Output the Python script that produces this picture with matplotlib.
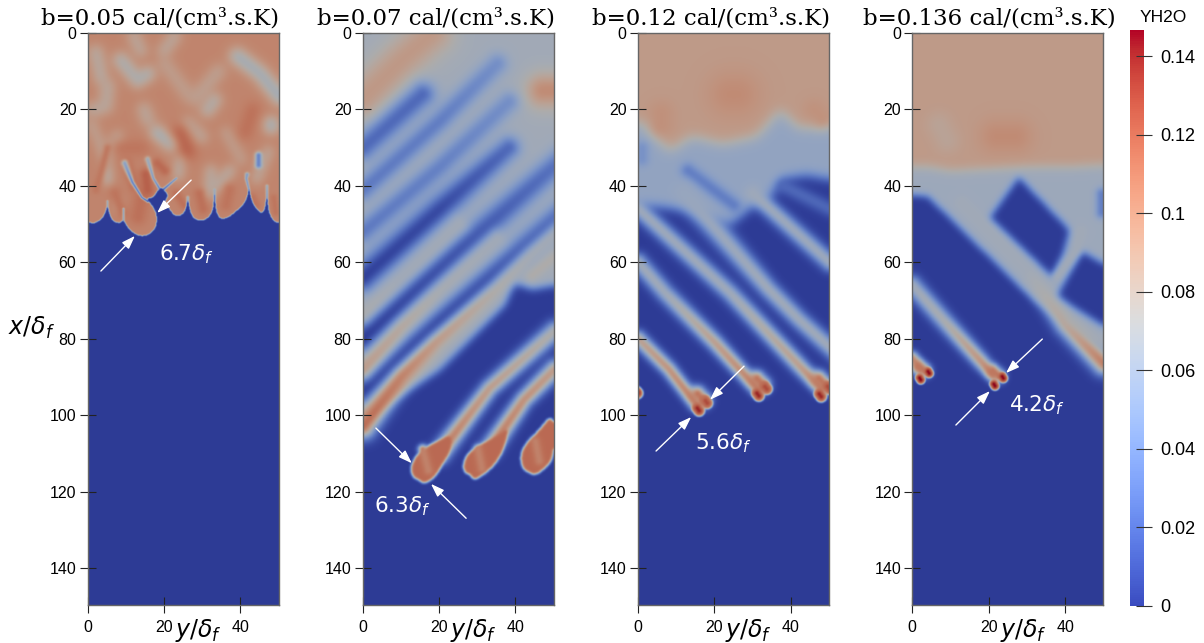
import numpy as np
import matplotlib
matplotlib.use("Agg")
import matplotlib.pyplot as plt
from matplotlib.colors import ListedColormap, Normalize
from matplotlib.cm import ScalarMappable
from matplotlib.path import Path

# field features, as (y, x) in flame thicknesses
# "fill" = region, value, blur ; "curve" = same with rounded corners
# "line" = ridge or gap, values, half widths ; "blob" = line with a sharp edge
# "blur" = soften what is there so far
titles = ["b=0.05 cal/(cm³.s.K)", "b=0.07 cal/(cm³.s.K)", "b=0.12 cal/(cm³.s.K)", "b=0.136 cal/(cm³.s.K)"]
widths = ["6.7", "6.3", "5.6", "4.2"]
width_pos = [(25.8, 57.9), (10.3, 123.8), (22.3, 107.3), (32.4, 97.4)]
arrows = [
    [((3.5, 62.3), (12.4, 53.1)), ((27.1, 38.5), (18.2, 47.1))],
    [((3.5, 103.4), (12.9, 112.6)), ((27.1, 127.0), (17.9, 118.0))],
    [((4.8, 109.4), (14.0, 100.5)), ((27.8, 87.2), (18.9, 96.0))],
    [((11.4, 102.6), (20.3, 93.7)), ((34.0, 80.1), (24.5, 89.0))],
]
x_ticks = [0, 20, 40]
y_ticks = [0, 20, 40, 60, 80, 100, 120, 140]
cbar_ticks = [0, 0.02, 0.04, 0.06, 0.08, 0.1, 0.12, 0.14]
cbar_labels = ["0", "0.02", "0.04", "0.06", "0.08", "0.1", "0.12", "0.14"]

front1 = [(0, 49.5), (1.5, 49.8), (3, 49), (4.3, 47.5), (5, 45), (5.6, 47.5), (6.5, 49.3), (8.3, 49.8), (9.2, 48.7), (10, 50.5), (12, 52.5), (14, 53.2), (16, 52.6), (17.6, 51),
          (18, 48), (17, 45.5), (15, 43.3), (17, 43), (18.2, 41), (19, 40.3), (20.5, 41.8), (20.8, 42.8), (19.8, 44.2), (21.2, 46), (22.5, 47.8), (24, 47.8), (25.4, 46.5), (26, 43), (26.6, 46.5),
          (27.5, 48.5), (29.5, 49.2), (31.5, 48.2), (32.7, 46), (33, 41), (33.3, 46.5), (34.5, 48.7), (36.5, 48.3), (39, 46.3), (41.3, 44), (42, 40), (42.7, 44), (44.5, 46.8),
          (46, 47), (46.7, 42), (47.2, 47), (48.5, 49.3), (50, 49.7), (50, 150), (0, 150)]

panel1 = [
    ("fill", [(0, 0), (50, 0), (50, 150), (0, 150)], 0.1035, 0.1),
    ("line", [(2, 5), (3.3, 11.5)], 0.078, 1.9),
    ("line", [(8.5, 7), (12.9, 12.3), (15.5, 10.6)], 0.07, 2.0),
    ("line", [(12, 1), (13.7, 4.5)], 0.082, 1.8),
    ("line", [(22.5, 1), (19.8, 4.5)], 0.082, 1.8),
    ("line", [(39, 6), (45, 10.6), (50, 16.7)], 0.064, 2.1),
    ("line", [(5, 14), (4.5, 19), (1.5, 20)], 0.08, 2.0),
    ("line", [(33, 17.5), (31.2, 20)], 0.074, 1.9),
    ("line", [(14.6, 20), (15.5, 22.5)], 0.082, 1.9),
    ("line", [(18, 26), (21.6, 29)], 0.066, 1.9),
    ("line", [(26, 23.6), (29.5, 27.1)], 0.082, 1.8),
    ("line", [(47.8, 23.6), (47.8, 24.5)], 0.064, 1.8),
    ("line", [(7.6, 27), (5, 31)], 0.084, 1.6),
    ("line", [(36, 26), (40, 33)], 0.088, 1.5),
    ("line", [(47, 31), (44, 38)], 0.082, 1.5),
    ("line", [(34, 10), (28, 17)], 0.086, 2.0),
    ("line", [(20, 8), (26, 16)], 0.088, 2.0),
    ("line", [(1, 24), (5, 34)], 0.087, 1.5),
    ("line", [(24, 33), (23.5, 37)], 0.078, 1.5),
    ("line", [(32, 36), (31.5, 42)], 0.078, 1.5),
    ("line", [(37, 36), (33.5, 40)], 0.078, 1.5),
    ("line", [(5, 36.5), (5, 38.5)], 0.074, 1.3),
    ("line", [(8, 44), (8, 46)], 0.078, 1.0),
    ("line", [(24, 26), (26, 31)], 0.12, 2.3),
    ("line", [(41, 26), (43, 20)], 0.114, 2.0),
    ("line", [(8, 30), (14, 30)], 0.112, 2.0),
    ("blur", 1.0),
    ("line", [(2, 41), (5, 30)], 0.11, 1.1),
    ("line", [(10, 34), (12, 40)], 0.113, 1.6),
    ("line", [(14, 43), (13, 48)], 0.113, 2.4),
    ("line", [(7, 42), (9, 47)], 0.111, 1.8),
    ("line", [(15, 37), (15.5, 41)], 0.12, 1.7),
    ("line", [(20, 36), (18, 34)], 0.116, 1.4),
    ("line", [(23, 42), (25, 45)], 0.113, 1.2),
    ("line", [(29, 42), (30, 46)], 0.113, 1.6),
    ("line", [(37, 41), (36, 45)], 0.111, 1.7),
    ("line", [(43, 43), (44, 45)], 0.111, 1.2),
    ("line", [(48.5, 43), (49, 47)], 0.111, 0.9),
    ("blur", 0.25),
    ("line", [(44.5, 32), (44.5, 34.5)], 0.035, 0.9),
    ("line", [(9.5, 34), (11.5, 39), (14, 43), (15.5, 44)], [0.055, 0.035, 0.03, 0.02], [0.8, 0.45, 0.3, 0.3]),
    ("line", [(15.5, 33), (17, 38), (18.5, 40.5)], [0.065, 0.05, 0.035], [0.7, 0.38, 0.35]),
    ("line", [(19.5, 41), (23, 38)], [0.02, 0.05], [0.35, 0.28]),
    ("line", [(41.5, 37), (41.3, 38), (42, 41)], 0.05, [0.55, 0.4, 0.3]),
    ("line", [(33, 41), (33, 45)], [0.065, 0.045], [0.4, 0.28]),
    ("line", [(26, 43), (26, 47)], [0.065, 0.045], [0.4, 0.28]),
    ("line", [(46.7, 40), (46.7, 44)], [0.065, 0.045], [0.4, 0.28]),
    ("line", [(5, 44), (5, 47)], 0.065, 0.3),
    ("line", [(9.2, 46), (9.2, 49)], 0.06, 0.3),
    ("curve", front1, 0.0, 0.15),
]

panel2 = [
    ("fill", [(0, 0), (50, 0), (50, 150), (0, 150)], 0.066, 0.1),
    ("line", [(0, 17), (10, 7), (18, 0)], 0.092, 5.5),
    ("line", [(47, 15), (54, 15)], 0.1, 4.5),
    ("line", [(0, 30), (15.5, 16)], 0.02, 3.3),
    ("line", [(0, 41), (20, 23), (35, 8)], [0.028, 0.03, 0.04], 2.8),
    ("line", [(0, 52), (20, 35), (38, 18)], [0.028, 0.032, 0.04], 2.8),
    ("line", [(0, 64), (20, 46), (38, 30)], [0.002, 0.006, 0.02], [3.8, 3.7, 3.0]),
    ("line", [(0, 80), (25, 57), (52, 33)], [0.0, 0.01, 0.025], [3.8, 3.6, 3.2]),
    ("line", [(0, 94), (20, 76), (52, 47)], [0.0, 0.0, 0.02], [3.6, 3.6, 3.2]),
    ("fill", [(0, 108), (20, 88), (37, 71), (39, 65), (44, 67), (50, 64), (50, 150), (0, 150)], 0.0, 1.0),
    ("line", [(0, 103), (10, 90), (19, 81), (35, 67), (44, 58), (52, 51)], [0.117, 0.106, 0.092, 0.075, 0.068, 0.066], [3.0, 2.6, 2.4, 2.3, 2.3, 2.3]),
    ("line", [(0, 88), (10, 77), (20, 67.5), (35, 54)], [0.09, 0.08, 0.07, 0.066], [2.4, 2.3, 2.3, 2.3]),
    ("line", [(0, 73.5), (10, 64), (25, 50)], [0.072, 0.066, 0.066], [2.3, 2.3, 2.3]),
    ("line", [(44, 63.5), (50, 58.5)], 0.075, 1.5),
    ("line", [(20, 110), (33, 93), (50, 78)], [0.112, 0.092, 0.074], [2.3, 2.1, 2.4]),
    ("line", [(33, 109), (42, 96), (50, 88)], [0.112, 0.1, 0.092], [2.3, 2.1, 2.3]),
    ("blur", 0.45),
    ("curve", [(12.2, 114), (13.7, 110.5), (17, 108), (20, 106.5), (23, 105), (23, 109), (21, 112.5), (19, 116), (16, 118.2), (14.4, 117), (13, 116.4)], 0.116, 0.35),
    ("curve", [(26, 113), (27.2, 110), (31, 107.5), (35, 105.5), (38, 103), (37, 108.5), (34.5, 113), (31.5, 115.5), (29, 117.2), (27.8, 115.5), (26.5, 115.2)], 0.116, 0.35),
    ("curve", [(41, 111), (42, 108), (45, 105), (50, 99), (50, 111), (47.5, 114), (45, 115.8), (43, 115), (41.6, 114)], 0.116, 0.35),
    ("line", [(15.5, 109), (17, 114.5)], 0.105, 1.2),
    ("line", [(30, 109), (31, 114)], 0.105, 1.2),
    ("line", [(45, 107), (46, 112)], 0.105, 1.2),
]

panel3 = [
    ("fill", [(0, 0), (50, 0), (50, 40), (44, 37), (38, 38), (34, 43), (30, 45), (24, 50), (12, 46), (0, 44)], 0.057, 1.4),
    ("fill", [(0, 0), (50, 0), (50, 22), (42, 25), (37, 20), (31, 27), (22, 29), (14, 27), (8, 31), (3, 24), (0, 22)], 0.091, 1.6),
    ("line", [(24, 16), (26, 16)], 0.1, 6.0),
    ("line", [(6, 21), (6, 24)], 0.097, 3.5),
    ("line", [(46, 20), (48, 22)], 0.096, 3.0),
    ("line", [(1, 30), (1, 33)], 0.042, 1.8),
    ("line", [(13, 36), (25, 45)], 0.03, 2.0),
    ("line", [(38, 40), (50, 46)], 0.02, 2.0),
    ("line", [(0, 46), (24, 68), (42, 87), (47.7, 93)], [0.064, 0.066, 0.09, 0.11], [2.2, 2.2, 2.0, 1.7]),
    ("line", [(12, 42), (34, 67), (42, 75), (52, 84)], [0.06, 0.066, 0.066, 0.066], [3.0, 2.3, 2.2, 2.2]),
    ("line", [(30, 42), (50, 60)], 0.064, 2.2),
    ("line", [(0, 60), (7, 68), (20, 81), (31, 93)], [0.066, 0.066, 0.09, 0.11], [2.2, 2.2, 2.0, 1.7]),
    ("line", [(0, 80), (8, 88), (15, 97)], [0.088, 0.098, 0.11], [1.9, 1.8, 1.7]),
    ("blur", 0.4),
    ("line", [(15.5, 94.5), (17, 96)], 0.11, 2.0),
    ("line", [(31, 90.5), (32.5, 92)], 0.11, 2.0),
    ("line", [(47.2, 90.5), (48.7, 92)], 0.11, 2.0),
    ("blob", [(15.9, 98.9), (15.4, 98.2)], 0.113, 1.55),
    ("blob", [(18, 96.9), (17.4, 96.2)], 0.113, 1.55),
    ("blob", [(31.5, 95), (31, 94.3)], 0.113, 1.55),
    ("blob", [(33.6, 93.2), (33, 92.5)], 0.113, 1.55),
    ("blob", [(47.8, 95.2), (47.3, 94.5)], 0.113, 1.55),
    ("blob", [(50, 93.2), (49.5, 92.5)], 0.113, 1.55),
    ("blob", [(-0.5, 94), (-0.3, 94.3)], 0.113, 1.6),
    ("line", [(15.9, 98.9), (15.4, 98.2)], 0.14, 0.7),
    ("line", [(18, 96.9), (17.6, 96.3)], 0.128, 0.7),
    ("line", [(31.5, 95), (31, 94.3)], 0.14, 0.7),
    ("line", [(33.6, 93.2), (33.1, 92.6)], 0.128, 0.7),
    ("line", [(47.8, 95.2), (47.3, 94.5)], 0.14, 0.7),
    ("line", [(50, 93.2), (49.5, 92.5)], 0.128, 0.7),
    ("line", [(0, 94), (0, 94.3)], 0.135, 0.7),
]

panel4 = [
    ("fill", [(0, 0), (50, 0), (50, 90), (0, 90)], 0.063, 0.1),
    ("fill", [(0, 0), (50, 0), (50, 34), (40, 35), (28, 35), (10, 36), (5, 35), (0, 35)], 0.091, 1.3),
    ("line", [(22, 27), (27, 27)], 0.1, 4.5),
    ("line", [(7, 24), (9, 28)], 0.084, 3.5),
    ("fill", [(0, 42), (4, 42.5), (32, 70), (50, 90), (50, 150), (0, 150)], 0.0, 0.9),
    ("fill", [(20, 48.5), (27.8, 37.5), (41.3, 51.6), (39.5, 58), (36.5, 64)], 0.0, 0.9),
    ("fill", [(37.5, 69), (44.3, 57), (50, 66), (50, 83)], 0.0, 0.9),
    ("line", [(49.5, 42), (49.5, 47)], 0.03, 1.5),
    ("line", [(37.8, 63.8), (43, 56.8), (44, 52)], 0.066, [1.2, 1.3, 1.8]),
    ("line", [(0, 66), (8, 75), (18, 86), (21, 89.5)], [0.066, 0.072, 0.098, 0.112], [2.3, 2.2, 1.9, 1.5]),
    ("line", [(13, 44.5), (30, 62), (40, 76.5), (50, 86.5)], [0.066, 0.066, 0.082, 0.108], [2.0, 2.3, 2.6, 2.8]),
    ("line", [(0, 85), (2, 88)], 0.105, 1.5),
    ("blur", 0.4),
    ("line", [(21, 88.5), (22.5, 89.7)], 0.11, 1.7),
    ("line", [(1.6, 87.3), (3.1, 88.3)], 0.11, 1.7),
    ("blob", [(2.2, 90.8), (1.9, 90.3)], 0.11, 1.25),
    ("blob", [(4.4, 89.1), (4.1, 88.6)], 0.11, 1.25),
    ("blob", [(21.6, 92.4), (21.3, 91.9)], 0.11, 1.25),
    ("blob", [(23.8, 90.4), (23.5, 89.9)], 0.11, 1.25),
    ("line", [(2.2, 90.8), (1.9, 90.3)], 0.147, 0.7),
    ("line", [(4.4, 89.1), (4.1, 88.6)], 0.147, 0.7),
    ("line", [(21.6, 92.4), (21.3, 91.9)], 0.147, 0.7),
    ("line", [(23.8, 90.4), (23.5, 89.9)], 0.147, 0.7),
]

panels = [panel1, panel2, panel3, panel4]
lefts = [87.5, 362.5, 637.7, 912.3]
title_centers = [160, 436, 711, 989]
W, H = 1204, 643
VMAX = 0.1467
YMAX = 149.7

gy = np.linspace(0, 50, 251)
gx = np.linspace(0, YMAX, 749)
GY, GX = np.meshgrid(gy, gx)
step = gy[1] - gy[0]


def blur(a, sigma):
    n = int(3 * sigma / step) + 1
    k = np.exp(-0.5 * (np.arange(-n, n + 1) * step / sigma) ** 2)
    k /= k.sum()
    for axis in (0, 1):
        pad = [(0, 0), (0, 0)]
        pad[axis] = (n, n)
        win = np.lib.stride_tricks.sliding_window_view(np.pad(a, pad, mode="edge"), len(k), axis=axis)
        a = win @ k
    return a


def round_corners(pts):
    pts = np.array(pts, float)
    for _ in range(2):
        nxt = np.roll(pts, -1, axis=0)
        pts = np.c_[0.75 * pts + 0.25 * nxt, 0.25 * pts + 0.75 * nxt].reshape(-1, 2)
    return pts


def paint_fill(field, pts, v, b):
    # push points on the frame outwards so the blur does not eat the edges
    out = [(-10 if p == 0 else 60 if p == 50 else p, -10 if q == 0 else 160 if q == 150 else q) for p, q in pts]
    mask = Path(out).contains_points(np.c_[GY.ravel(), GX.ravel()]).reshape(GY.shape).astype(float)
    mask = blur(mask, b)
    return field * (1 - mask) + v * mask


def paint_line(field, pts, vs, ws, power=2):
    pts = np.array(pts, float)
    vs = np.full(len(pts), vs, float) if np.isscalar(vs) else np.array(vs, float)
    ws = np.full(len(pts), ws, float) if np.isscalar(ws) else np.array(ws, float)
    best = np.full(GY.shape, np.inf)
    val = np.zeros(GY.shape)
    for i in range(len(pts) - 1):
        p, q = pts[i], pts[i + 1]
        d = q - p
        t = ((GY - p[0]) * d[0] + (GX - p[1]) * d[1]) / (d @ d)
        t = np.clip(t, 0, 1)
        dist = np.hypot(GY - p[0] - t * d[0], GX - p[1] - t * d[1]) / (ws[i] + t * (ws[i + 1] - ws[i]))
        use = dist < best
        best[use] = dist[use]
        val[use] = (vs[i] + t * (vs[i + 1] - vs[i]))[use]
    mask = np.exp(-best ** power)
    return field * (1 - mask) + val * mask


def build(ops):
    field = np.zeros(GY.shape)
    for op in ops:
        if op[0] == "fill":
            field = paint_fill(field, op[1], op[2], op[3])
        elif op[0] == "curve":
            pts = np.array(op[1], float)
            if pts[-1, 1] == 150:
                # open outline along the front: round it, then close it along the frame
                pts = pts[:-2]
                edge = round_corners(pts)[:-6]
                edge = np.r_[[(-10, pts[0, 1])], edge, [(60, pts[-1, 1]), (60, 160), (-10, 160)]]
            else:
                edge = round_corners(pts)
            field = paint_fill(field, [tuple(p) for p in edge], op[2], op[3])
        elif op[0] == "blur":
            field = blur(field, op[1])
        elif op[0] == "blob":
            field = paint_line(field, op[1], op[2], op[3], power=6)
        else:
            field = paint_line(field, op[1], op[2], op[3])
    return field


# the field is drawn lit, so darker than the colour bar
lit = plt.cm.coolwarm(np.linspace(0, 1, 256))
lit[:, :3] *= 0.78
lit_cmap = ListedColormap(lit)

fig = plt.figure(figsize=(W / 100, H / 100), dpi=100)
for i in range(4):
    ax = fig.add_axes([lefts[i] / W, 1 - 605 / H, 191.2 / W, 572 / H])
    ax.imshow(build(panels[i]), extent=[0, 50, YMAX, 0], aspect="auto", cmap=lit_cmap, vmin=0, vmax=VMAX, interpolation="bilinear")
    ax.set_xticks(x_ticks)
    ax.set_yticks(y_ticks)
    ax.tick_params(direction="inout", length=11, width=0.8, color="#222222", labelsize=11.5, pad=2.5)
    ax.tick_params(axis="x", pad=5)
    for lab in ax.get_xticklabels() + ax.get_yticklabels():
        lab.set_family("Liberation Sans")
    for s in ax.spines.values():
        s.set_color("#666666")
        s.set_linewidth(1.0)
    for tail, head in arrows[i]:
        ax.annotate("", xy=head, xytext=tail, arrowprops=dict(arrowstyle="-|>,head_length=0.8,head_width=0.28", color="white", lw=1.0, shrinkA=0, shrinkB=0))
    ax.text(width_pos[i][0], width_pos[i][1], "$" + widths[i] + r"\delta_f$", color="white", fontsize=15.5, ha="center", va="center")
    fig.text(title_centers[i] / W, 1 - 24 / H, titles[i], family="DejaVu Serif", fontsize=16.5, ha="center", va="baseline")
    fig.text((lefts[i] + 111) / W, 1 - 631 / H, r"$y/\delta_f$", fontsize=17, ha="center", va="center")

fig.text(31 / W, 1 - 328 / H, r"$x/\delta_f$", fontsize=17, ha="center", va="center")

cax = fig.add_axes([1130 / W, 1 - 606 / H, 14 / W, 576 / H])
cb = fig.colorbar(ScalarMappable(Normalize(0, VMAX), cmap="coolwarm"), cax=cax)
cb.outline.set_visible(False)
cb.set_ticks(cbar_ticks, labels=cbar_labels)
cb.ax.tick_params(direction="inout", length=11, width=0.8, color="#333333", labelsize=13, pad=6)
for lab in cb.ax.get_yticklabels():
    lab.set_family("Liberation Sans")
fig.text(1163 / W, 1 - 17 / H, "YH2O", family="Liberation Sans", fontsize=12.5, ha="center", va="center")

fig.savefig("out.png", dpi=100)
